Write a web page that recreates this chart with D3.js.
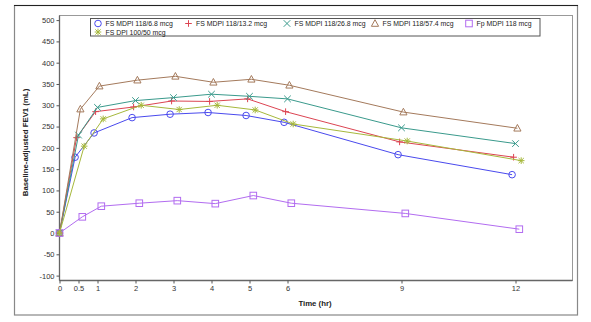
<!DOCTYPE html>
<html><head><meta charset="utf-8">
<script src="https://cdn.jsdelivr.net/npm/d3@7"></script>
<style>
html,body{margin:0;padding:0;background:#fff;}
svg{display:block;font-family:"Liberation Sans",Arial,sans-serif;}
</style></head>
<body>
<svg id="c" width="591" height="322"></svg>
<script>
// ---- data ----
const times = [0, 0.5, 1, 2, 3, 4, 5, 6, 9, 12];
const seriesNames = ["FS MDPI 118/6.8 mcg","FS MDPI 118/13.2 mcg","FS MDPI 118/26.8 mcg","FS MDPI 118/57.4 mcg","Fp MDPI 118 mcg","FS DPI 100/50 mcg"];
const fs68  = [0, 178, 235, 271, 279, 283, 276, 260, 184, 137];
const fs132 = [0, 224, 285, 296, 310, 309, 315, 285, 214, 178];
const fs268 = [0, 230, 295, 311, 318, 326, 321, 315, 247, 210];
const fs574 = [0, 291, 345, 359, 368, 354, 361, 347, 284, 246];
const fp118 = [0, 38, 63, 70, 76, 69, 88, 70, 46, 9];
const fsdpi = [0, 204, 268, 300, 290, 300, 289, 256, 216, 170];
const xTicks = [0, 0.5, 1, 2, 3, 4, 5, 6, 9, 12];
const yTicks = [-100, -50, 0, 50, 100, 150, 200, 250, 300, 350, 400, 450, 500];

// ---- styles ----
const styles = [
  {vals: fs68,  color: "#4a4aee", sym: "circle",   dodge: -0.09},
  {vals: fs132, color: "#dc4452", sym: "plus",     dodge: -0.05},
  {vals: fs268, color: "#3a9a8c", sym: "x",        dodge: 0},
  {vals: fs574, color: "#a47a5c", sym: "triangle", dodge: 0.05},
  {vals: fp118, color: "#b26cf0", sym: "square",   dodge: 0.10},
  {vals: fsdpi, color: "#a6b83c", sym: "star",     dodge: 0.15}
];

const svg = d3.select("#c");
const L = 59.5, R = 572.5, T = 15.5, B = 280.5;
const x = d3.scaleLinear().domain([0, 13.5]).range([L, R]);
const y = d3.scaleLinear().domain([-100, 500]).range([275.6, 20.1]);

// outer frame
svg.append("rect").attr("x",14.5).attr("y",5.5).attr("width",563).attr("height",309.5)
  .attr("fill","none").attr("stroke","#888").attr("stroke-width",1.2);
svg.append("line").attr("x1",14).attr("x2",578).attr("y1",5.5).attr("y2",5.5).attr("stroke","#222").attr("stroke-width",1.2);

// plot frame
svg.append("rect").attr("x",L).attr("y",T).attr("width",R-L).attr("height",B-T)
  .attr("fill","none").attr("stroke","#999").attr("stroke-width",1);

// axes
const fmt = d => String(d);
const xAxis = d3.axisBottom(x).tickValues(xTicks).tickSize(3).tickPadding(2).tickFormat(fmt);
const gx = svg.append("g").attr("transform",`translate(0,${B})`).call(xAxis);
const yAxis = d3.axisLeft(y).tickValues(yTicks).tickSize(3).tickPadding(2).tickFormat(fmt);
const gy = svg.append("g").attr("transform",`translate(${L},0)`).call(yAxis);
[gx, gy].forEach(g => {
  g.select(".domain").attr("stroke","#666").attr("stroke-width",1.3);
  g.selectAll(".tick line").attr("stroke","#555");
  g.selectAll(".tick text").attr("fill","#333").style("font-size","7.5px").style("font-family","Liberation Sans, Arial, sans-serif");
});
gy.select(".domain").attr("d",`M0,${T}V${B}`);
gx.select(".domain").attr("d",`M${L},0H${R}`);

// axis titles
svg.append("text").attr("x", 315).attr("y", 306).attr("text-anchor","middle")
  .style("font-size","7.8px").style("font-weight","bold").attr("fill","#222").text("Time (hr)");
svg.append("text").attr("transform","translate(28,142.5) rotate(-90)").attr("text-anchor","middle")
  .style("font-size","7.8px").style("font-weight","bold").attr("fill","#222").text("Baseline-adjusted FEV1 (mL)");

// markers
function drawMarker(g, sym, cx, cy, color){
  const s = 3.3;
  if (sym === "circle") g.append("circle").attr("cx",cx).attr("cy",cy).attr("r",s).attr("fill","none").attr("stroke",color).attr("stroke-width",1);
  else if (sym === "square") g.append("rect").attr("x",cx-s).attr("y",cy-s).attr("width",2*s).attr("height",2*s).attr("fill","none").attr("stroke",color).attr("stroke-width",1);
  else if (sym === "triangle") g.append("path").attr("d",`M${cx},${cy-s-0.5}L${cx+s+0.3},${cy+s-0.5}L${cx-s-0.3},${cy+s-0.5}Z`).attr("fill","none").attr("stroke",color).attr("stroke-width",1);
  else if (sym === "plus") g.append("path").attr("d",`M${cx-s},${cy}H${cx+s}M${cx},${cy-s}V${cy+s}`).attr("stroke",color).attr("stroke-width",1);
  else if (sym === "x") g.append("path").attr("d",`M${cx-s},${cy-s}L${cx+s},${cy+s}M${cx-s},${cy+s}L${cx+s},${cy-s}`).attr("stroke",color).attr("stroke-width",1);
  else if (sym === "star") g.append("path").attr("d",`M${cx-s},${cy}H${cx+s}M${cx-s*0.8},${cy-s*0.8}L${cx+s*0.8},${cy+s*0.8}M${cx-s*0.8},${cy+s*0.8}L${cx+s*0.8},${cy-s*0.8}M${cx},${cy-s}V${cy+s}`).attr("stroke",color).attr("stroke-width",1);
}

const line = d3.line().x(d => x(d[0])).y(d => y(d[1]));
const plot = svg.append("g");
styles.forEach(st => {
  const pts = times.map((t,i) => [t === 0 ? 0 : t + st.dodge, st.vals[i]]);
  plot.append("path").datum(pts).attr("d", line).attr("fill","none").attr("stroke", st.color).attr("stroke-width",1);
  const mg = plot.append("g");
  pts.forEach(p => drawMarker(mg, st.sym, x(p[0]), y(p[1]), st.color));
});

// legend
const lg = svg.append("g");
lg.append("rect").attr("x",90.5).attr("y",18.5).attr("width",449.5).attr("height",17.5).attr("fill","#fff").attr("stroke","#555").attr("stroke-width",1);
const legPos = [[98,23.5],[188.5,23.5],[287,23.5],[375,23.5],[469,23.5],[98,32]];
styles.forEach((st,i) => {
  const [lx,ly] = legPos[i];
  drawMarker(lg, st.sym, lx, ly, st.color);
  lg.append("text").attr("x", lx+7.5).attr("y", ly+2.6).style("font-size","6.9px").attr("fill","#222").text(seriesNames[i]);
});
</script>
</body></html>
